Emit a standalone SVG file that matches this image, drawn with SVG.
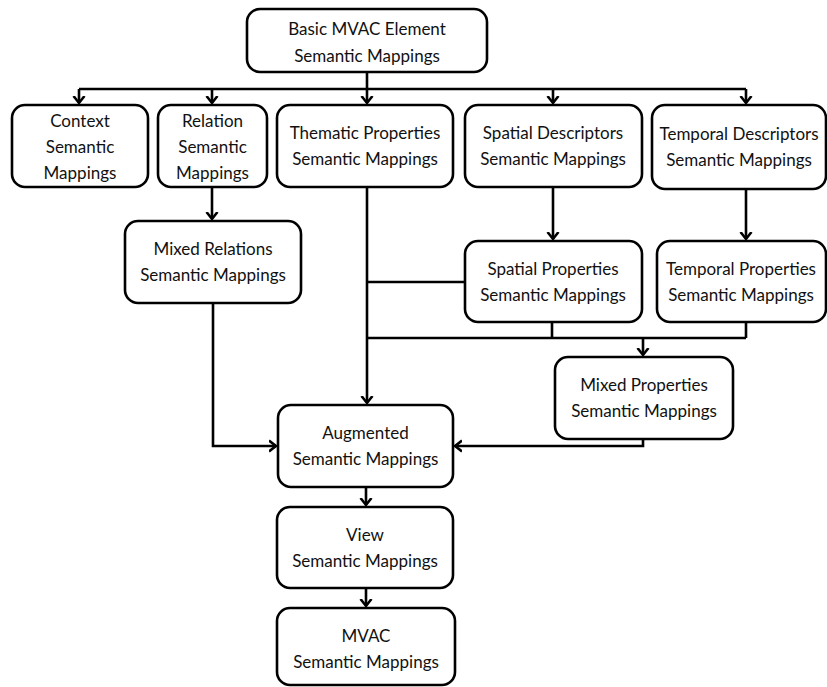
<svg xmlns="http://www.w3.org/2000/svg" width="827" height="687" viewBox="0 0 827 687">
  <defs>
    <style>
      .box { fill: #ffffff; stroke: #000000; stroke-width: 2.6; }
      .lbl { font-family: Lato, "Liberation Sans", sans-serif; font-size: 17px; fill: #111111; text-anchor: middle; }
      .wire { fill: none; stroke: #000000; stroke-width: 2.6; }
    </style>
    <marker id="arrow" markerUnits="userSpaceOnUse" markerWidth="14" markerHeight="14" viewBox="-7 -7 14 14" refX="0" refY="0" orient="auto">
      <path d="M -7 -5.5 L 0 0 L -7 5.5" fill="none" stroke="#000000" stroke-width="2.6"/>
    </marker>
  </defs>
  <rect width="827" height="687" fill="#ffffff"/>

  <g id="connectors">
    <path class="wire" d="M 367 72 V 89"/>
    <path class="wire" d="M 79 89 H 746"/>
    <path class="wire" d="M 79 89 V 103" marker-end="url(#arrow)"/>
    <path class="wire" d="M 212 89 V 103" marker-end="url(#arrow)"/>
    <path class="wire" d="M 367 89 V 103" marker-end="url(#arrow)"/>
    <path class="wire" d="M 553 89 V 103" marker-end="url(#arrow)"/>
    <path class="wire" d="M 746 89 V 103" marker-end="url(#arrow)"/>
    <path class="wire" d="M 212 187 V 219" marker-end="url(#arrow)"/>
    <path class="wire" d="M 213 303 V 446 H 276" marker-end="url(#arrow)"/>
    <path class="wire" d="M 367 187 V 403" marker-end="url(#arrow)"/>
    <path class="wire" d="M 367 282 H 465"/>
    <path class="wire" d="M 553 187 V 239" marker-end="url(#arrow)"/>
    <path class="wire" d="M 746 189 V 239" marker-end="url(#arrow)"/>
    <path class="wire" d="M 552 322 V 338"/>
    <path class="wire" d="M 746 322 V 338"/>
    <path class="wire" d="M 367 338 H 746"/>
    <path class="wire" d="M 643 338 V 355" marker-end="url(#arrow)"/>
    <path class="wire" d="M 643 439 V 446 H 455" marker-end="url(#arrow)"/>
    <path class="wire" d="M 366 487 V 505" marker-end="url(#arrow)"/>
    <path class="wire" d="M 366 588 V 606" marker-end="url(#arrow)"/>
  </g>

  <g id="basic">
    <rect class="box" x="247" y="9" width="240" height="63" rx="13"/>
    <text class="lbl" x="367" y="35">Basic MVAC Element</text>
    <text class="lbl" x="367" y="62">Semantic Mappings</text>
  </g>
  <g id="context">
    <rect class="box" x="12" y="105" width="136" height="82" rx="13"/>
    <text class="lbl" x="80" y="127">Context</text>
    <text class="lbl" x="80" y="153">Semantic</text>
    <text class="lbl" x="80" y="179">Mappings</text>
  </g>
  <g id="relation">
    <rect class="box" x="158" y="105" width="109" height="82" rx="13"/>
    <text class="lbl" x="212.5" y="127">Relation</text>
    <text class="lbl" x="212.5" y="153">Semantic</text>
    <text class="lbl" x="212.5" y="179">Mappings</text>
  </g>
  <g id="thematic">
    <rect class="box" x="277" y="105" width="176" height="82" rx="13"/>
    <text class="lbl" x="365" y="139">Thematic Properties</text>
    <text class="lbl" x="365" y="165">Semantic Mappings</text>
  </g>
  <g id="spatial-descriptors">
    <rect class="box" x="465" y="105" width="177" height="82" rx="13"/>
    <text class="lbl" x="553" y="139">Spatial Descriptors</text>
    <text class="lbl" x="553" y="165">Semantic Mappings</text>
  </g>
  <g id="temporal-descriptors">
    <rect class="box" x="652" y="105" width="174" height="84" rx="13"/>
    <text class="lbl" x="739" y="140">Temporal Descriptors</text>
    <text class="lbl" x="739" y="166">Semantic Mappings</text>
  </g>
  <g id="mixed-relations">
    <rect class="box" x="125" y="221" width="176" height="82" rx="13"/>
    <text class="lbl" x="213" y="255">Mixed Relations</text>
    <text class="lbl" x="213" y="281">Semantic Mappings</text>
  </g>
  <g id="spatial-properties">
    <rect class="box" x="465" y="241" width="177" height="81" rx="13"/>
    <text class="lbl" x="553" y="275">Spatial Properties</text>
    <text class="lbl" x="553" y="301">Semantic Mappings</text>
  </g>
  <g id="temporal-properties">
    <rect class="box" x="657" y="241" width="169" height="81" rx="13"/>
    <text class="lbl" x="741" y="275">Temporal Properties</text>
    <text class="lbl" x="741" y="301">Semantic Mappings</text>
  </g>
  <g id="mixed-properties">
    <rect class="box" x="555" y="357" width="178" height="82" rx="13"/>
    <text class="lbl" x="644" y="391">Mixed Properties</text>
    <text class="lbl" x="644" y="417">Semantic Mappings</text>
  </g>
  <g id="augmented">
    <rect class="box" x="278" y="405" width="175" height="82" rx="13"/>
    <text class="lbl" x="365.5" y="439">Augmented</text>
    <text class="lbl" x="365.5" y="465">Semantic Mappings</text>
  </g>
  <g id="view">
    <rect class="box" x="277" y="507" width="176" height="81" rx="13"/>
    <text class="lbl" x="365" y="541">View</text>
    <text class="lbl" x="365" y="567">Semantic Mappings</text>
  </g>
  <g id="mvac">
    <rect class="box" x="277" y="608" width="178" height="77" rx="13"/>
    <text class="lbl" x="366" y="642">MVAC</text>
    <text class="lbl" x="366" y="668">Semantic Mappings</text>
  </g>
</svg>
